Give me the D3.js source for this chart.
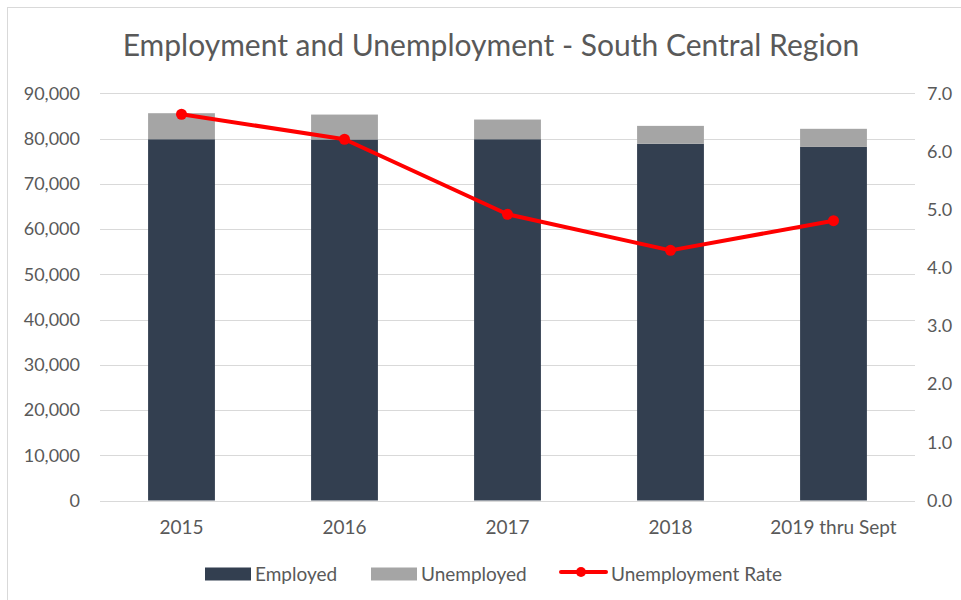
<!DOCTYPE html>
<html>
<head>
<meta charset="utf-8">
<script src="https://cdn.jsdelivr.net/npm/d3@7"></script>
<style>
  html, body { margin: 0; padding: 0; background: #fff; }
  svg { display: block; font-family: Lato, "Open Sans", sans-serif; }
</style>
</head>
<body>
<svg id="chart" width="961" height="600"></svg>
<script>
// Labour force by year, South Central Region
const years = ["2015", "2016", "2017", "2018", "2019 thru Sept"];
const employed = [79850, 79800, 79850, 78850, 78150];
const unemployed = [5750, 5500, 4350, 3950, 4000];
const unemploymentRate = [6.64, 6.21, 4.92, 4.30, 4.81];
const leftTicks = [0, 10000, 20000, 30000, 40000, 50000, 60000, 70000, 80000, 90000];
const rightTicks = [0, 1, 2, 3, 4, 5, 6, 7];

const colors = { employed: "#333f50", unemployed: "#a5a5a5", rate: "#ff0000", text: "#595959", grid: "#d9d9d9" };

const svg = d3.select("#chart");
const plot = { left: 100, right: 915, top: 93.3, bottom: 500.5 };

// Chart frame
svg.append("rect")
  .attr("x", 7.5).attr("y", 7.5)
  .attr("width", 1000).attr("height", 1000)
  .attr("fill", "none").attr("stroke", colors.grid).attr("stroke-width", 1);

const x = d3.scaleBand().domain(years).range([plot.left, plot.right]).paddingInner(0.59).paddingOuter(0.295);
const yLeft = d3.scaleLinear().domain([0, 90000]).range([plot.bottom, plot.top]);
const yRight = d3.scaleLinear().domain([0, 7]).range([plot.bottom, plot.top]);

// Title
svg.append("text")
  .attr("x", 491).attr("y", 56)
  .attr("text-anchor", "middle")
  .attr("fill", colors.text)
  .style("font-size", "30px")
  .text("Employment and Unemployment - South Central Region");

// Gridlines
svg.append("g")
  .selectAll("line")
  .data(leftTicks)
  .join("line")
  .attr("x1", plot.left).attr("x2", plot.right)
  .attr("y1", d => Math.round(yLeft(d)) + 0.5)
  .attr("y2", d => Math.round(yLeft(d)) + 0.5)
  .attr("stroke", colors.grid).attr("stroke-width", 1);

// Left axis
const leftAxis = svg.append("g")
  .attr("transform", `translate(${plot.left - 20},0)`)
  .call(d3.axisLeft(yLeft).tickValues(leftTicks).tickFormat(d3.format(",")).tickSize(0).tickPadding(0));
leftAxis.select(".domain").remove();
leftAxis.selectAll("text").attr("fill", colors.text).style("font-size", "18px").style("font-family", "Lato, 'Open Sans', sans-serif");

// Right axis
const rightAxis = svg.append("g")
  .attr("transform", `translate(${plot.right + 12},0)`)
  .call(d3.axisRight(yRight).tickValues(rightTicks).tickFormat(d3.format(".1f")).tickSize(0).tickPadding(0));
rightAxis.select(".domain").remove();
rightAxis.selectAll("text").attr("fill", colors.text).style("font-size", "18px").style("font-family", "Lato, 'Open Sans', sans-serif");

// Stacked bars
const rows = years.map((year, i) => ({ year, employed: employed[i], unemployed: unemployed[i] }));
const stack = d3.stack().keys(["employed", "unemployed"])(rows);
svg.append("g")
  .selectAll("g")
  .data(stack)
  .join("g")
  .attr("fill", d => colors[d.key])
  .selectAll("rect")
  .data(d => d)
  .join("rect")
  .attr("x", d => x(d.data.year))
  .attr("width", x.bandwidth())
  .attr("y", d => yLeft(d[1]))
  .attr("height", d => yLeft(d[0]) - yLeft(d[1]));

// X axis labels
const bottomAxis = svg.append("g")
  .attr("transform", `translate(0,${plot.bottom})`)
  .call(d3.axisBottom(x).tickSize(0).tickPadding(20));
bottomAxis.select(".domain").remove();
bottomAxis.selectAll("text").attr("fill", colors.text).style("font-size", "19px").style("font-family", "Lato, 'Open Sans', sans-serif");

// Unemployment rate line
const center = d => x(d) + x.bandwidth() / 2;
const ratePoints = years.map((year, i) => [center(year), yRight(unemploymentRate[i])]);
svg.append("path")
  .datum(ratePoints)
  .attr("d", d3.line())
  .attr("fill", "none")
  .attr("stroke", colors.rate)
  .attr("stroke-width", 4)
  .attr("stroke-linejoin", "round")
  .attr("stroke-linecap", "round");
svg.append("g")
  .selectAll("circle")
  .data(ratePoints)
  .join("circle")
  .attr("cx", d => d[0]).attr("cy", d => d[1])
  .attr("r", 5.5)
  .attr("fill", colors.rate);

// Legend
const legend = svg.append("g").style("font-size", "19px").attr("fill", colors.text);
const legendY = 574;
[["employed", "Employed", 205], ["unemployed", "Unemployed", 371]].forEach(([key, label, lx]) => {
  legend.append("rect").attr("x", lx).attr("y", legendY - 6.5).attr("width", 46).attr("height", 13).attr("fill", colors[key]);
  legend.append("text").attr("x", lx + 50).attr("y", legendY).attr("dy", "0.35em").text(label);
});
legend.append("line")
  .attr("x1", 561).attr("x2", 606).attr("y1", legendY - 2).attr("y2", legendY - 2)
  .attr("stroke", colors.rate).attr("stroke-width", 4).attr("stroke-linecap", "round");
legend.append("circle").attr("cx", 581).attr("cy", legendY - 2).attr("r", 5).attr("fill", colors.rate);
legend.append("text").attr("x", 611).attr("y", legendY).attr("dy", "0.35em").text("Unemployment Rate");
</script>
</body>
</html>
